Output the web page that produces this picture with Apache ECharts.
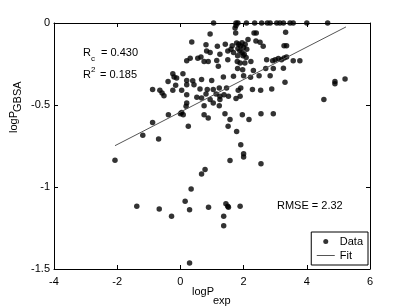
<!DOCTYPE html>
<html>
<head>
<meta charset="utf-8">
<script src="https://cdn.jsdelivr.net/npm/echarts@6/dist/echarts.min.js"></script>
<style>html,body{margin:0;padding:0;background:#fff}#c{width:409px;height:308px}</style>
</head>
<body>
<div id="c"></div>
<script>
var xExp = [1.05,1.76,1.82,2.09,2.35,2.57,2.75,2.84,3.05,3.15,3.26,3.47,3.57,4.0,4.66,
1.73,1.76,0.94,1.75,0.36,3.33,2.33,2.40,
0.81,1.17,1.42,1.64,1.78,2.14,2.39,2.52,2.62,3.28,3.36,
1.85,1.9,1.95,2.0,2.05,1.88,1.95,2.02,2.1,1.82,1.98,2.08,
0.83,0.94,1.25,1.5,1.6,1.68,1.81,
0.2,0.31,0.55,0.65,0.75,0.88,1.15,1.5,1.8,1.89,2.04,2.23,2.73,2.92,3.0,3.1,3.2,3.28,3.36,3.57,3.78,
1.2,1.81,1.97,2.31,2.7,2.94,3.26,
0.08,-0.24,-0.2,-0.12,0.2,0.39,0.67,0.99,1.36,1.68,2.0,2.22,2.49,2.84,3.31,4.89,4.89,5.21,4.54,
-0.39,-0.15,0.2,0.43,0.62,0.85,1.04,1.23,1.46,1.83,1.91,2.28,2.54,2.89,
-0.88,-0.65,-0.58,-0.52,-0.24,0.04,0.2,0.52,0.67,0.81,1.13,1.25,1.38,1.52,1.76,1.89,1.25,0.94,
0.2,0.18,0.75,1.04,1.23,
-0.38,0.0,0.09,0.04,0.75,0.88,1.41,1.57,1.96,2.17,2.55,2.94,
-0.88,0.25,1.51,1.78,-1.19,-0.69,1.91,2.0,2.0,1.57,2.55,-2.07,0.67,0.78,0.34,0.15,0.29,-1.38,-0.67,-0.28,0.89,1.44,1.5,1.52,1.89,1.37,1.37,0.29];
var yGbsa = [0,0,0,0,0,0,0,0,0,0,0,0,0,0,0,
-0.03,-0.015,-0.067,-0.061,-0.116,-0.057,-0.061,-0.061,
-0.132,-0.142,-0.13,-0.138,-0.122,-0.10,-0.11,-0.118,-0.142,-0.138,-0.138,
-0.13,-0.14,-0.12,-0.15,-0.13,-0.17,-0.18,-0.19,-0.16,-0.155,-0.2,-0.21,
-0.17,-0.18,-0.19,-0.17,-0.16,-0.18,-0.2,
-0.23,-0.215,-0.215,-0.207,-0.234,-0.234,-0.228,-0.224,-0.234,-0.244,-0.244,-0.234,-0.224,-0.23,-0.224,-0.217,-0.224,-0.213,-0.207,-0.23,-0.23,
-0.264,-0.278,-0.285,-0.29,-0.278,-0.278,-0.276,
-0.309,-0.309,-0.329,-0.335,-0.35,-0.352,-0.345,-0.35,-0.329,-0.325,-0.321,-0.331,-0.321,-0.321,-0.362,-0.356,-0.37,-0.341,-0.467,
-0.356,-0.38,-0.376,-0.376,-0.402,-0.406,-0.406,-0.396,-0.396,-0.41,-0.396,-0.406,-0.41,-0.402,
-0.406,-0.41,-0.427,-0.443,-0.41,-0.41,-0.437,-0.453,-0.457,-0.433,-0.433,-0.447,-0.437,-0.447,-0.461,-0.447,-0.467,-0.467,
-0.488,-0.508,-0.504,-0.488,-0.504,
-0.559,-0.553,-0.559,-0.545,-0.559,-0.579,-0.553,-0.589,-0.559,-0.589,-0.553,-0.553,
-0.606,-0.63,-0.63,-0.661,-0.685,-0.707,-0.742,-0.797,-0.817,-0.839,-0.858,-0.837,-0.921,-0.894,-1.012,-1.087,-1.138,-1.118,-1.134,-1.179,-1.124,-1.102,-1.118,-1.124,-1.118,-1.179,-1.236,-1.463];
var fitX = [-2.07, 5.24];
var fitY = [-0.748, -0.024];
var xTicks = [-4, -2, 0, 2, 4, 6];
var yTicks = [-1.5, -1, -0.5, 0];

var FF = "'Liberation Sans', Arial, Helvetica, sans-serif";
var chart = echarts.init(document.getElementById('c'), null, {renderer: 'canvas'});
function ax(pos, vals, isX, showLabel) {
  return {
    type: 'value', position: pos,
    min: vals[0], max: vals[vals.length - 1], interval: vals[1] - vals[0],
    axisLine: {show: true, onZero: false, lineStyle: {color: '#000', width: 1}},
    axisTick: {show: true, inside: true, length: 4, lineStyle: {color: '#000', width: 1}},
    axisLabel: {show: showLabel, color: '#000', fontSize: 11, fontFamily: FF, margin: isX ? 7 : 4},
    splitLine: {show: false}
  };
}
var pts = xExp.map(function (x, i) { return [x, yGbsa[i]]; });
var fitPts = fitX.map(function (x, i) { return [x, fitY[i]]; });
var T = function (text, x, y, size, extra) {
  var o = {type: 'text', x: x, y: y, silent: true, z: 100,
    style: {text: text, fill: '#000', fontSize: size, fontFamily: FF, align: 'left', verticalAlign: 'middle'}};
  if (extra) for (var k in extra) o[k] = extra[k];
  return o;
};
chart.setOption({
  animation: false,
  backgroundColor: '#fff',
  grid: {left: 54, right: 39, top: 23, bottom: 39},
  xAxis: [ax('bottom', xTicks, true, true), ax('top', xTicks, true, false)],
  yAxis: [ax('left', yTicks, false, true), ax('right', yTicks, false, false)],
  legend: {
    orient: 'vertical', right: 41, top: 232,
    backgroundColor: '#fff', borderColor: '#000', borderWidth: 1, borderRadius: 0,
    padding: [4, 5, 4, 5], itemWidth: 18, itemHeight: 5, itemGap: 3,
    textStyle: {color: '#000', fontSize: 11, fontFamily: FF},
    data: [
      {name: 'Data', icon: 'circle', itemStyle: {color: '#000'}},
      {name: 'Fit', itemStyle: {opacity: 0, color: '#555', borderWidth: 0}, lineStyle: {color: '#555', width: 1}}
    ]
  },
  series: [
    {name: 'Data', type: 'scatter', data: pts, symbol: 'circle', symbolSize: 5.5, clip: false,
     itemStyle: {color: '#000'}},
    {name: 'Fit', type: 'line', data: fitPts, symbol: 'none', showSymbol: false,
     lineStyle: {color: '#555', width: 1}, itemStyle: {color: '#555'}}
  ],
  graphic: [
    T('R', 83, 53, 11), T('c', 91, 59, 8), T('= 0.430', 101, 53, 11),
    T('R', 83, 75, 11), T('2', 91, 70, 8), T('= 0.185', 100, 75, 11),
    T('RMSE = 2.32', 277, 206, 11),
    T('logP', 192, 292, 11), T('exp', 213, 301, 11),
    T('logP', 14, 133, 11, {rotation: Math.PI / 2}), T('GBSA', 18, 112, 11, {rotation: Math.PI / 2})
  ]
});
</script>
</body>
</html>
